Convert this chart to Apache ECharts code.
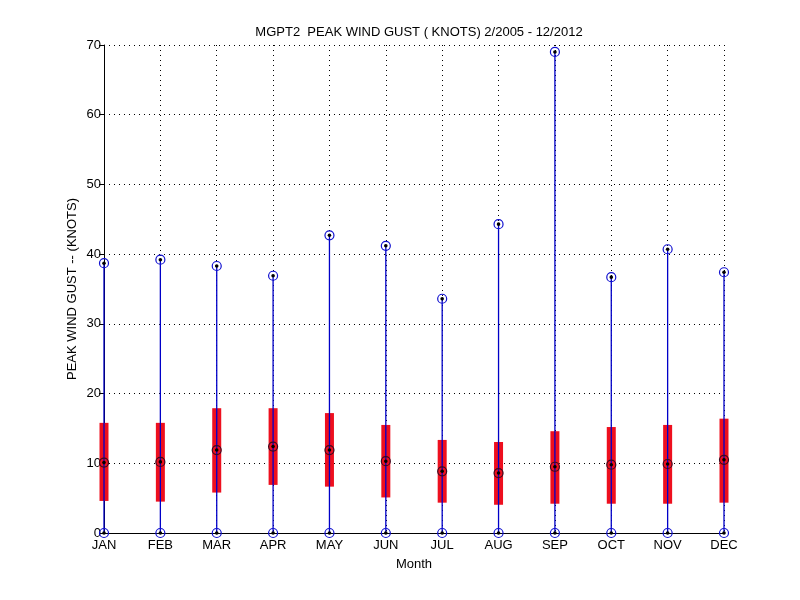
<!DOCTYPE html>
<html>
<head>
<meta charset="utf-8">
<script src="https://cdn.jsdelivr.net/npm/echarts@6/dist/echarts.min.js"></script>
<style>html,body{margin:0;padding:0;background:#fff;}#main{width:800px;height:600px;}</style>
</head>
<body>
<div id="main"></div>
<script>
var months = ['JAN','FEB','MAR','APR','MAY','JUN','JUL','AUG','SEP','OCT','NOV','DEC'];
var maxVals = [38.7, 39.2, 38.3, 36.9, 42.7, 41.2, 33.6, 44.3, 69.0, 36.7, 40.7, 37.4];
var q3Vals  = [15.8, 15.8, 17.9, 17.9, 17.2, 15.5, 13.35, 13.05, 14.6, 15.2, 15.5, 16.4];
var medVals = [10.1, 10.2, 11.9, 12.4, 11.9, 10.3, 8.85, 8.6, 9.5, 9.8, 9.9, 10.5];
var q1Vals  = [4.6, 4.5, 5.8, 6.9, 6.65, 5.1, 4.35, 4.05, 4.2, 4.2, 4.2, 4.35];
var minVals = [0, 0, 0, 0, 0, 0, 0, 0, 0, 0, 0, 0];

var FONT = 'Liberation Sans, Arial, sans-serif';
var data = months.map(function (m, i) {
  return [i, minVals[i], q1Vals[i], medVals[i], q3Vals[i], maxVals[i]];
});

function renderItem(params, api) {
  var x = api.value(0);
  var pMin = api.coord([x, api.value(1)]);
  var pQ1 = api.coord([x, api.value(2)]);
  var pMed = api.coord([x, api.value(3)]);
  var pQ3 = api.coord([x, api.value(4)]);
  var pMax = api.coord([x, api.value(5)]);
  var bw = 9;
  var cx = pMin[0];
  return {
    type: 'group',
    children: [
      { type: 'rect', shape: { x: cx - bw / 2, y: pQ3[1], width: bw, height: pQ1[1] - pQ3[1] },
        style: { fill: '#ee0f1e' } },
      { type: 'line', shape: { x1: cx, y1: pMin[1], x2: cx, y2: pMax[1] },
        style: { stroke: '#0000c8', lineWidth: 1.3 } },
      { type: 'circle', shape: { cx: cx, cy: pMax[1], r: 4.5 }, style: { fill: 'none', stroke: '#1010d0', lineWidth: 1.2 } },
      { type: 'circle', shape: { cx: cx, cy: pMax[1], r: 1.8 }, style: { fill: '#000' } },
      { type: 'circle', shape: { cx: cx, cy: pMin[1], r: 4.5 }, style: { fill: 'none', stroke: '#1010d0', lineWidth: 1.2 } },
      { type: 'circle', shape: { cx: cx, cy: pMin[1], r: 1.8 }, style: { fill: '#000' } },
      { type: 'circle', shape: { cx: cx, cy: pMed[1], r: 4.5 }, style: { fill: 'none', stroke: '#3a0a20', lineWidth: 1.2 } },
      { type: 'circle', shape: { cx: cx, cy: pMed[1], r: 1.8 }, style: { fill: '#000' } }
    ]
  };
}

var chart = echarts.init(document.getElementById('main'), null, { renderer: 'canvas' });
chart.setOption({
  backgroundColor: '#fff',
  animation: false,
  title: {
    text: 'MGPT2  PEAK WIND GUST ( KNOTS) 2/2005 - 12/2012',
    left: 414, top: 21, textAlign: 'center',
    textStyle: { fontFamily: FONT, fontSize: 13, fontWeight: 'normal', color: '#000' }
  },
  grid: { left: 104, right: 76, top: 45, bottom: 67, containLabel: false },
  xAxis: {
    type: 'category', data: months, boundaryGap: false,
    name: 'Month', nameLocation: 'middle', nameGap: 25, nameMoveOverlap: false,
    nameTextStyle: { fontFamily: FONT, fontSize: 13, color: '#000' },
    axisLine: { show: true, lineStyle: { color: '#000', width: 1 } },
    axisTick: { show: false },
    axisLabel: { fontFamily: FONT, fontSize: 13, color: '#000', margin: 6, interval: 0 },
    splitLine: { show: true, lineStyle: { color: '#000', type: [1, 4], width: 1 } }
  },
  yAxis: {
    type: 'value', min: 0, max: 70, interval: 10,
    name: 'PEAK WIND GUST -- (KNOTS)', nameLocation: 'middle', nameGap: 25, nameRotate: 90,
    nameMoveOverlap: false,
    nameTextStyle: { fontFamily: FONT, fontSize: 13, color: '#000' },
    axisLine: { show: true, lineStyle: { color: '#000', width: 1 } },
    axisTick: { show: true, length: 5, inside: false, lineStyle: { color: '#000' } },
    axisLabel: { fontFamily: FONT, fontSize: 13, color: '#000', margin: 3 },
    splitLine: { show: true, lineStyle: { color: '#000', type: [1, 4], width: 1 } }
  },
  series: [{
    type: 'custom',
    renderItem: renderItem,
    encode: { x: 0, y: [1, 2, 3, 4, 5] },
    data: data,
    z: 5,
    clip: false
  }]
});
</script>
</body>
</html>
